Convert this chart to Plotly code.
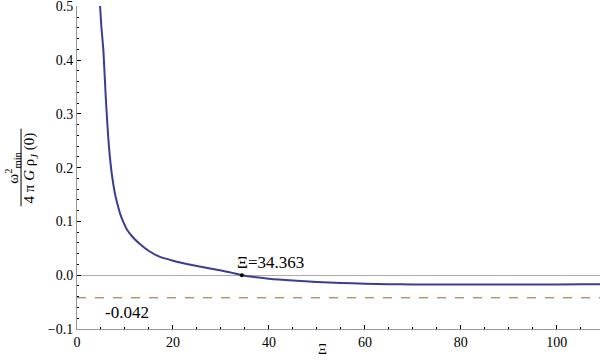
import plotly.graph_objects as go

xi = [4.8, 5.1, 5.5, 6.0, 6.7, 7.3, 7.9, 8.5, 9.0, 9.6, 10.4, 11.5, 13.1, 15.0, 17.3, 20.0, 24.2, 28.0, 32.0, 34.363,
      40.0, 45.0, 50.0, 55.0, 60.0, 65.0, 70.0, 76.0, 85.0, 95.0, 105.0, 109.0]
omega = [0.502, 0.46, 0.418, 0.33, 0.235, 0.185, 0.152, 0.13, 0.114, 0.1, 0.085, 0.072, 0.058, 0.045, 0.034, 0.027,
         0.0186, 0.012, 0.005, 0.0, -0.0065, -0.0100, -0.0125, -0.0143, -0.0157, -0.0166, -0.0172, -0.0175,
         -0.0174, -0.0172, -0.0170, -0.0169]
xi_root = 34.363
dashed_level = -0.042
x_ticks = [0, 20, 40, 60, 80, 100]
x_labels = ["0", "20", "40", "60", "80", "100"]
y_ticks = [-0.1, 0.0, 0.1, 0.2, 0.3, 0.4, 0.5]
y_labels = ["\u22120.1", "0.0", "0.1", "0.2", "0.3", "0.4", "0.5"]

FONT = "Liberation Serif, Times New Roman, serif"

fig = go.Figure()
fig.add_trace(go.Scatter(x=[0, 109], y=[dashed_level, dashed_level], mode="lines",
                         line=dict(color="rgb(140,100,55)", width=1, dash="dash"), hoverinfo="skip"))
fig.add_trace(go.Scatter(x=xi, y=omega, mode="lines", line=dict(color="rgb(60,60,150)", width=2, shape="spline", smoothing=0.6)))
fig.add_trace(go.Scatter(x=[xi_root], y=[0], mode="markers", marker=dict(color="black", size=4)))

fig.add_annotation(x=xi_root, y=0.0, text="Ξ=34.363", showarrow=False, xanchor="left", yanchor="bottom",
                   xshift=-7, yshift=1, font=dict(family=FONT, size=17, color="black"))
fig.add_annotation(x=5.5, y=dashed_level, text="-0.042", showarrow=False, xanchor="left", yanchor="top",
                   yshift=-3, font=dict(family=FONT, size=17, color="black"))

# y-axis title as a fraction
fig.add_annotation(xref="paper", yref="paper", x=-0.124, y=0.5, xanchor="center", yanchor="middle",
                   text="ω<sup>2</sup><sub>min</sub>",
                   showarrow=False, textangle=-90, font=dict(family=FONT, size=15, color="black"))
fig.add_annotation(xref="paper", yref="paper", x=-0.090, y=0.5, xanchor="center", yanchor="middle",
                   text="4 π <i>G</i> ρ<sub><i>J</i></sub> (0)",
                   showarrow=False, textangle=-90, font=dict(family=FONT, size=15, color="black"))
fig.add_shape(type="line", xref="paper", yref="paper", x0=-0.107, x1=-0.107, y0=0.38, y1=0.62,
              line=dict(color="black", width=1))
fig.add_annotation(xref="paper", yref="paper", x=0.47, y=-0.065, xanchor="center", yanchor="middle",
                   text="Ξ", showarrow=False, font=dict(family=FONT, size=14, color="black"))

fig.update_layout(
    width=600, height=362, margin=dict(l=77, r=0, t=6, b=33),
    paper_bgcolor="white", plot_bgcolor="white", showlegend=False,
    font=dict(family=FONT, size=14, color="black"),
    xaxis=dict(range=[0, 109], tickmode="array", tickvals=x_ticks, ticktext=x_labels, ticks="inside", ticklen=4,
               tickcolor="black", showline=True, linecolor="rgb(150,150,150)", linewidth=1, showgrid=False,
               zeroline=False, minor=dict(tick0=0, dtick=5, ticks="inside", ticklen=2, tickcolor="black"),
               ticklabeloverflow="allow", tickfont=dict(family=FONT, size=14)),
    yaxis=dict(range=[-0.1, 0.5005], tickmode="array", tickvals=y_ticks, ticktext=y_labels, ticks="inside", ticklen=4,
               tickcolor="black", showline=True, linecolor="rgb(150,150,150)", linewidth=1, showgrid=False,
               zeroline=True, zerolinecolor="rgb(170,170,170)", zerolinewidth=1,
               minor=dict(tick0=0, dtick=0.02, ticks="inside", ticklen=2, tickcolor="black"),
               ticklabeloverflow="allow", tickfont=dict(family=FONT, size=14)),
)

fig.write_html("out.html", config={"displayModeBar": False},
               post_script="document.body.style.margin='0';")
